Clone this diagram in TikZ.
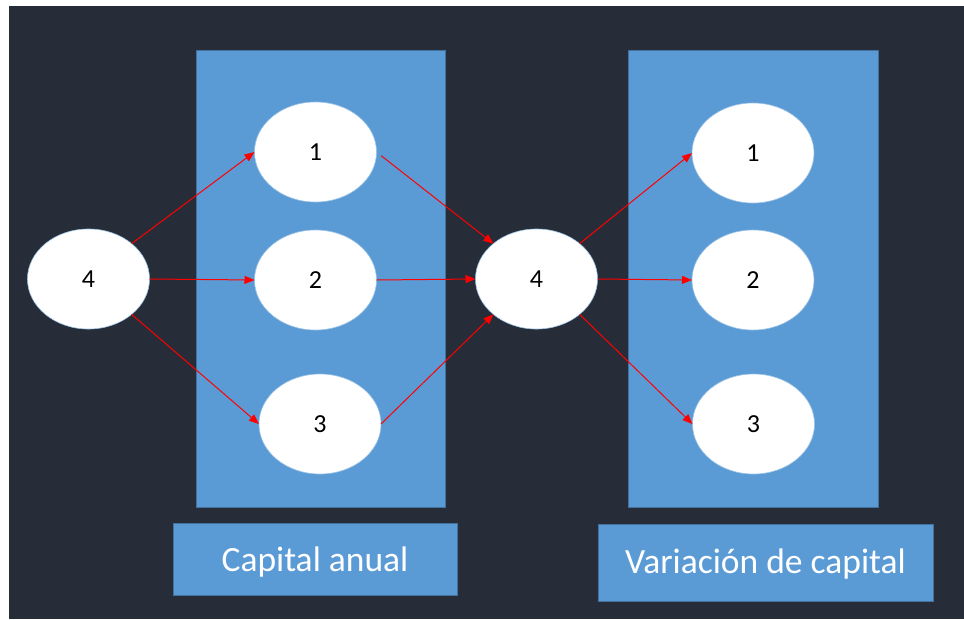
\documentclass[tikz,border=0pt]{standalone}
\usepackage{fontspec}
\setmainfont{Carlito}
\usetikzlibrary{arrows.meta,shapes.geometric}
\definecolor{bgdark}{HTML}{262D38}
\definecolor{panelblue}{HTML}{5B9BD5}
\definecolor{paneledge}{HTML}{41719C}
\definecolor{linkred}{HTML}{FF0000}
\begin{document}
\begin{tikzpicture}[x=1pt,y=-1pt,
  panel/.style={draw=paneledge, line width=0.8pt, fill=panelblue, inner sep=0pt, outer sep=0pt},
  labeltext/.style={text=white, font=\fontsize{35.5}{40}\selectfont},
  state/.style={ellipse, draw=panelblue!60!white, line width=0.6pt, fill=white,
    minimum width=122pt, minimum height=100pt, inner sep=0pt, outer sep=0pt,
    text=black, font=\fontsize{26}{30}\selectfont},
  link/.style={draw=linkred, line width=1pt, -{Triangle[length=10pt,width=8pt]}}]
  \useasboundingbox (0,0) rectangle (964,619);
  % page background
  \fill[white] (0,0) rectangle (964,619);
  \fill[bgdark] (9,6) rectangle (964,619);
  % panels
  \node[panel, minimum width=249pt, minimum height=457pt] (panelA) at (320.5,278.5) {};
  \node[panel, minimum width=250pt, minimum height=457pt] (panelB) at (753,278.5) {};
  \node[panel, minimum width=284pt, minimum height=72pt] (capA) at (315,559) {};
  \node[labeltext] (capAtext) at ([yshift=-3pt]capA.center) {Capital anual};
  \node[panel, minimum width=335pt, minimum height=77pt] (capB) at (765.5,562.5) {};
  \node[labeltext] (capBtext) at ([yshift=-2pt]capB.center) {Variación de capital};
  % states
  \node[state] (s4) at (88.5,279) {4};
  \node[state] (a1) at (315.5,152) {1};
  \node[state] (a2) at (315.5,280) {2};
  \node[state] (a3) at (320,424) {3};
  \node[state] (m4) at (536.5,279) {4};
  \node[state] (b1) at (753,153) {1};
  \node[state] (b2) at (753,280) {2};
  \node[state] (b3) at (753.5,424) {3};
  % connectors
  \draw[link] (s4.north east) -- (a1.west);
  \draw[link] (s4.east) -- (a2.west);
  \draw[link] (s4.south east) -- (a3.west);
  \draw[link, shorten <=6pt] (a1.east) -- (m4.north west);
  \draw[link] (a2.east) -- (m4.west);
  \draw[link] (a3.east) -- (m4.south west);
  \draw[link] (m4.north east) -- (b1.west);
  \draw[link] (m4.east) -- (b2.west);
  \draw[link] (m4.south east) -- (b3.west);
\end{tikzpicture}
\end{document}
